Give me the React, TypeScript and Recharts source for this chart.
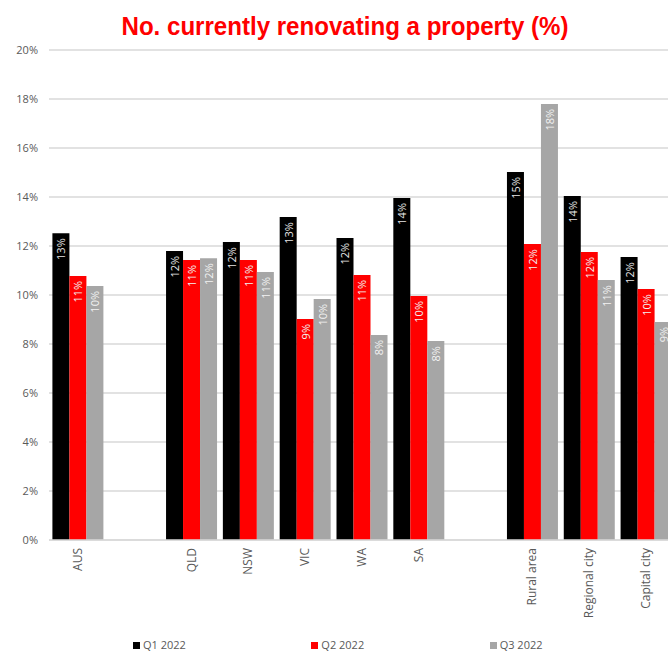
import React from 'react';
import { BarChart, Bar, XAxis, YAxis, CartesianGrid, Legend, LabelList } from 'recharts';

const categories = ['AUS', ' ', 'QLD', 'NSW', 'VIC', 'WA', 'SA', '  ', 'Rural area', 'Regional city', 'Capital city'];
const q1Values = [12.52, null, 11.8, 12.16, 13.18, 12.33, 13.96, null, 15.02, 14.04, 11.55];
const q2Values = [10.78, null, 11.43, 11.43, 9.02, 10.82, 9.96, null, 12.08, 11.76, 10.24];
const q3Values = [10.37, null, 11.5, 10.94, 9.84, 8.37, 8.12, null, 17.8, 10.61, 8.9];
const yTicks = [0, 2, 4, 6, 8, 10, 12, 14, 16, 18, 20];
const seriesNames = ['Q1 2022', 'Q2 2022', 'Q3 2022'];
const seriesKeys = ['q1', 'q2', 'q3'];
const seriesColors = ['#000000', '#ff0000', '#a6a6a6'];
const labelColors = ['#e6e6e6', '#f2f2f2', '#f2f2f2'];
const title = 'No. currently renovating a property (%)';

const data = categories.map((name, i) => ({
  name,
  q1: q1Values[i],
  q2: q2Values[i],
  q3: q3Values[i],
}));

const FONT = '"Open Sans", "Noto Sans", sans-serif';

const XTick = (props: any) => {
  const { x, y, payload } = props;
  return (
    <text
      x={x}
      y={y}
      transform={`rotate(-90, ${x}, ${y})`}
      textAnchor="end"
      dominantBaseline="central"
      fontSize={12}
      fill="#595959"
      fontFamily={FONT}
    >
      {payload.value}
    </text>
  );
};

const makeLabel = (color: string) => (props: any) => {
  const { x, y, width, value } = props;
  if (value == null) return null;
  const cx = Number(x) + Number(width) / 2;
  const ty = Number(y) + 5;
  return (
    <text
      x={cx}
      y={ty}
      transform={`rotate(-90, ${cx}, ${ty})`}
      textAnchor="end"
      dominantBaseline="central"
      fontSize={11}
      fill={color}
      fontFamily={FONT}
    >
      {Math.round(Number(value))}%
    </text>
  );
};

const LegendContent = () => (
  <div
    style={{
      display: 'flex',
      height: 12,
      lineHeight: '12px',
      paddingLeft: 133,
      fontFamily: FONT,
      fontSize: 11,
      color: '#595959',
    }}
  >
    {seriesNames.map((n, i) => (
      <div key={n} style={{ width: 186, display: 'flex', alignItems: 'center' }}>
        <span style={{ display: 'inline-block', width: 7, height: 7, background: seriesColors[i], marginRight: 3 }} />
        <span>{n}</span>
      </div>
    ))}
  </div>
);

export default function App() {
  return (
    <div style={{ position: 'fixed', left: 0, top: 0, width: 668, height: 651, overflow: 'hidden', background: '#fff' }}>
      <BarChart
        width={680}
        height={651}
        data={data}
        margin={{ top: 50, right: 6, bottom: 0, left: 0 }}
        barCategoryGap="6%"
        barGap={0}
      >
        <CartesianGrid vertical={false} stroke="#d9d9d9" strokeWidth={1.3} />
        <XAxis
          dataKey="name"
          height={99}
          tick={<XTick />}
          tickLine={false}
          axisLine={{ stroke: '#d9d9d9', strokeWidth: 1.3 }}
          interval={0}
          tickSize={6}
          tickMargin={2}
        />
        <YAxis
          width={49}
          domain={[0, 20]}
          ticks={yTicks}
          tickFormatter={(v: number) => `${v}%`}
          axisLine={false}
          tickLine={false}
          tickSize={6}
          tickMargin={5}
          tick={{ fontSize: 11, fill: '#595959', fontFamily: FONT }}
        />
        <Legend verticalAlign="bottom" content={<LegendContent />} wrapperStyle={{ left: 0, width: 668 }} />
        {seriesKeys.map((k, i) => (
          <Bar key={k} dataKey={k} name={seriesNames[i]} fill={seriesColors[i]} isAnimationActive={false}>
            <LabelList dataKey={k} content={makeLabel(labelColors[i])} />
          </Bar>
        ))}
      </BarChart>
      <svg width={668} height={50} style={{ position: 'absolute', left: 0, top: 0 }}>
        <text
          x={345}
          y={35}
          textAnchor="middle"
          fontSize={26}
          fontWeight="bold"
          fill="#ff0000"
          fontFamily='"Liberation Sans", Arial, sans-serif'
          textLength={447}
          lengthAdjust="spacingAndGlyphs"
        >
          {title}
        </text>
      </svg>
    </div>
  );
}
